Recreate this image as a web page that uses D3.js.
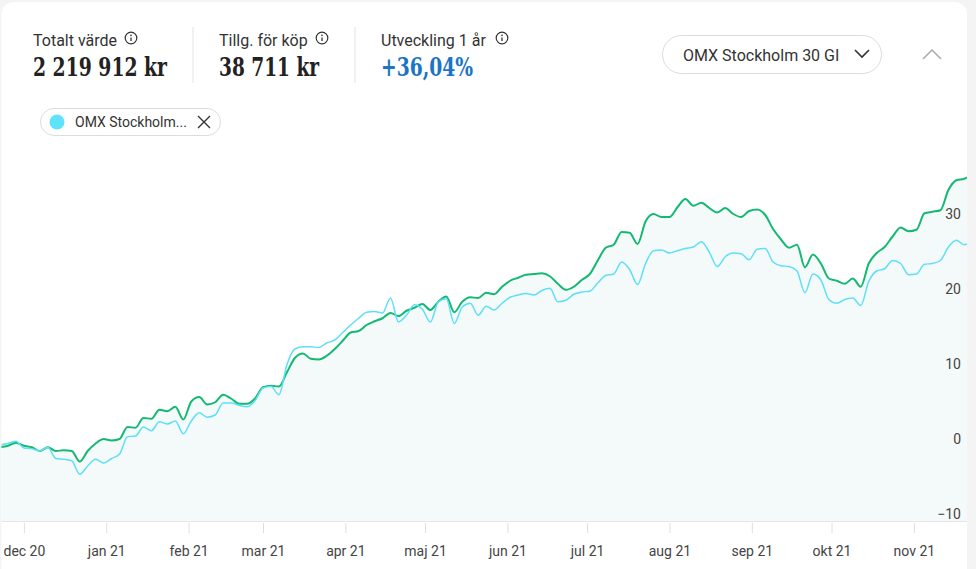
<!DOCTYPE html>
<html>
<head>
<meta charset="utf-8">
<script src="https://cdn.jsdelivr.net/npm/d3@7"></script>
<style>
  body { margin: 0; background: #f4f4f4; font-family: Roboto, "Noto Sans", sans-serif; }
  svg { display: block; }
  .big { font-family: "DejaVu Serif Condensed", "DejaVu Serif", serif; font-stretch: condensed; font-weight: bold; }
</style>
</head>
<body>
<svg id="chart" width="976" height="569"></svg>
<script>
// dates, one every three days (last one is 21 nov)
dates = ["2020-11-22","2020-11-25","2020-11-28","2020-12-01","2020-12-04","2020-12-07","2020-12-10","2020-12-13",
  "2020-12-16","2020-12-19","2020-12-22","2020-12-25","2020-12-28","2020-12-31","2021-01-03","2021-01-06",
  "2021-01-09","2021-01-12","2021-01-15","2021-01-18","2021-01-21","2021-01-24","2021-01-27","2021-01-30",
  "2021-02-02","2021-02-05","2021-02-08","2021-02-11","2021-02-14","2021-02-17","2021-02-20","2021-02-23",
  "2021-02-26","2021-03-01","2021-03-04","2021-03-07","2021-03-10","2021-03-13","2021-03-16","2021-03-19",
  "2021-03-22","2021-03-25","2021-03-28","2021-03-31","2021-04-03","2021-04-06","2021-04-09","2021-04-12",
  "2021-04-15","2021-04-18","2021-04-21","2021-04-24","2021-04-27","2021-04-30","2021-05-03","2021-05-06",
  "2021-05-09","2021-05-12","2021-05-15","2021-05-18","2021-05-21","2021-05-24","2021-05-27","2021-05-30",
  "2021-06-02","2021-06-05","2021-06-08","2021-06-11","2021-06-14","2021-06-17","2021-06-20","2021-06-23",
  "2021-06-26","2021-06-29","2021-07-02","2021-07-05","2021-07-08","2021-07-11","2021-07-14","2021-07-17",
  "2021-07-20","2021-07-23","2021-07-26","2021-07-29","2021-08-01","2021-08-04","2021-08-07","2021-08-10",
  "2021-08-13","2021-08-16","2021-08-19","2021-08-22","2021-08-25","2021-08-28","2021-08-31","2021-09-03",
  "2021-09-06","2021-09-09","2021-09-12","2021-09-15","2021-09-18","2021-09-21","2021-09-24","2021-09-27",
  "2021-09-30","2021-10-03","2021-10-06","2021-10-09","2021-10-12","2021-10-15","2021-10-18","2021-10-21",
  "2021-10-24","2021-10-27","2021-10-30","2021-11-02","2021-11-05","2021-11-08","2021-11-11","2021-11-14",
  "2021-11-17","2021-11-20","2021-11-21"]

// portfolio, % change
portfolio = [-1.1,-0.9,-0.5,-0.9,-1.1,-1.6,-1.1,-1.6,
  -1.5,-1.6,-3.0,-1.6,-0.6,0.0,-0.2,0.0,
  1.6,1.5,2.8,2.7,3.9,3.7,4.3,2.6,
  5.0,5.6,4.6,4.9,5.9,5.4,4.7,4.7,
  5.4,6.9,7.1,7.0,8.9,10.8,11.4,10.7,
  10.6,11.1,12.0,13.1,14.2,14.4,15.2,15.7,
  16.1,16.8,16.4,17.1,17.5,18.0,17.2,18.3,
  19.0,16.9,18.3,18.9,18.8,19.5,19.3,20.3,
  21.1,21.5,21.9,22.0,22.1,21.7,20.7,19.9,
  20.3,21.2,22.0,23.8,25.5,25.9,27.6,27.5,
  26.0,29.0,30.0,29.6,29.6,30.9,32.0,31.1,
  31.5,30.8,30.2,30.8,30.0,29.6,30.4,30.6,
  29.9,28.0,26.6,25.5,25.9,22.9,24.6,23.4,
  21.4,21.1,20.7,21.4,20.3,23.4,24.8,25.6,
  27.0,28.2,27.7,27.9,30.1,30.3,30.5,33.2,
  34.5,34.7,34.9]

// OMX Stockholm 30 GI, % change
omx = [-0.8,-0.6,-0.3,-1.2,-1.3,-1.6,-1.1,-2.6,
  -2.7,-2.9,-4.7,-3.6,-2.7,-3.2,-2.6,-2.0,
  0.3,0.4,1.6,1.1,2.3,2.0,2.4,0.7,
  2.4,3.5,2.9,3.2,4.8,4.8,4.5,4.3,
  5.1,6.8,7.0,5.9,9.9,12.0,12.3,12.3,
  12.2,12.8,13.2,14.2,15.2,16.1,16.9,17.0,
  16.8,18.8,15.6,16.5,17.9,17.3,15.6,18.3,
  18.7,15.4,17.6,18.1,16.5,17.7,17.2,18.1,
  18.9,19.2,19.4,19.2,19.8,20.1,18.3,18.5,
  19.3,19.6,19.7,20.8,21.8,22.0,23.6,22.6,
  20.6,23.4,25.1,25.2,24.8,25.1,25.4,25.6,
  26.3,24.9,23.0,24.3,24.8,24.7,23.9,25.3,
  25.4,23.6,23.1,23.0,22.4,19.5,22.0,21.2,
  18.6,18.1,18.6,18.8,17.8,21.0,22.4,22.7,
  23.8,23.4,21.9,22.0,23.3,23.4,23.8,25.6,
  26.5,25.9,26.0]

yTicks = [-10, 0, 10, 20, 30]
monthNames = ["jan","feb","mar","apr","maj","jun","jul","aug","sep","okt","nov","dec"]

stats = [
  {label: "Totalt värde", value: "2 219 912 kr", color: "#222", x: 33, w: 134, icon: 131},
  {label: "Tillg. för köp", value: "38 711 kr", color: "#222", x: 219, w: 100, icon: 322},
  {label: "Utveckling 1 år", value: "+36,04%", color: "#1c74c7", x: 381, w: 92, icon: 502}
]

svg = d3.select("#chart")
cardW = 967

// card
svg.append("rect").attr("x", 1.5).attr("y", 2).attr("width", cardW - 1.5).attr("height", 620)
  .attr("rx", 12).attr("fill", "#fff")

svg.append("defs").append("clipPath").attr("id", "cardclip")
  .append("rect").attr("x", 1.5).attr("y", 0).attr("width", cardW - 1.5).attr("height", 569)

// header numbers
head = svg.append("g")
stats.forEach(function(s){
  head.append("text").attr("x", s.x).attr("y", 46).attr("font-size", 16).attr("fill", "#333").text(s.label)
  ic = head.append("g").attr("transform", "translate(" + s.icon + ",38)")
  ic.append("circle").attr("r", 5.8).attr("fill", "none").attr("stroke", "#333").attr("stroke-width", 1.2)
  ic.append("line").attr("x1", 0).attr("x2", 0).attr("y1", -0.5).attr("y2", 3).attr("stroke", "#333").attr("stroke-width", 1.3)
  ic.append("circle").attr("cy", -2.6).attr("r", 0.8).attr("fill", "#333")
  head.append("text").attr("class", "big").attr("x", s.x).attr("y", 76).attr("font-size", 26)
    .attr("fill", s.color).attr("textLength", s.w).attr("lengthAdjust", "spacingAndGlyphs").text(s.value)
})
;[193, 355].forEach(function(x){
  head.append("line").attr("x1", x).attr("x2", x).attr("y1", 27).attr("y2", 83).attr("stroke", "#e3e3e3")
})

// index dropdown
dd = svg.append("g")
dd.append("rect").attr("x", 662.5).attr("y", 35.5).attr("width", 219).attr("height", 38).attr("rx", 19)
  .attr("fill", "#fff").attr("stroke", "#dcdcdc")
dd.append("text").attr("x", 683).attr("y", 61).attr("font-size", 16).attr("fill", "#333").text("OMX Stockholm 30 GI")
dd.append("path").attr("d", "M855,50 L862,57 L869,50").attr("fill", "none").attr("stroke", "#333").attr("stroke-width", 1.6)
svg.append("path").attr("d", "M923,59 L932,50 L941,59").attr("fill", "none").attr("stroke", "#aaa").attr("stroke-width", 1.5)

// legend chip
chip = svg.append("g")
chip.append("rect").attr("x", 40.5).attr("y", 108.5).attr("width", 180).attr("height", 27).attr("rx", 13.5)
  .attr("fill", "#fff").attr("stroke", "#dcdcdc")
chip.append("circle").attr("cx", 57).attr("cy", 122).attr("r", 7.5).attr("fill", "#5ee3fb")
chip.append("text").attr("x", 75).attr("y", 127).attr("font-size", 14).attr("fill", "#333").text("OMX Stockholm...")
chip.append("path").attr("d", "M198,116 L210,128 M210,116 L198,128").attr("stroke", "#333").attr("stroke-width", 1.4)

// chart
parse = d3.timeParse("%Y-%m-%d")
rows = dates.map(function(d, i){ return {date: parse(d), p: portfolio[i], o: omx[i]} })

x = d3.scaleTime().domain([parse("2020-11-22"), parse("2021-11-21")]).range([0, cardW])
y = d3.scaleLinear().domain([-11, 40]).range([521.5, 139])

plot = svg.append("g").attr("clip-path", "url(#cardclip)")

plot.append("path").datum(rows)
  .attr("d", d3.area().x(function(d){ return x(d.date) }).y0(y(-11)).y1(function(d){ return y(d.p) }).curve(d3.curveMonotoneX))
  .attr("fill", "#f4faf9")

plot.append("path").datum(rows)
  .attr("d", d3.line().x(function(d){ return x(d.date) }).y(function(d){ return y(d.p) }).curve(d3.curveMonotoneX))
  .attr("fill", "none").attr("stroke", "#14b873").attr("stroke-width", 2)

plot.append("path").datum(rows)
  .attr("d", d3.line().x(function(d){ return x(d.date) }).y(function(d){ return y(d.o) }).curve(d3.curveMonotoneX))
  .attr("fill", "none").attr("stroke", "#5ddff8").attr("stroke-width", 1.5)

// x axis
plot.append("line").attr("x1", 0).attr("x2", cardW).attr("y1", 521.5).attr("y2", 521.5).attr("stroke", "#e6e6e6")
xAxis = d3.axisBottom(x).ticks(d3.timeMonth.every(1)).tickSize(10).tickPadding(13)
  .tickFormat(function(d){ return monthNames[d.getMonth()] + " " + d3.timeFormat("%y")(d) })
gx = plot.append("g").attr("transform", "translate(0,523)").call(xAxis)
gx.select(".domain").remove()
gx.selectAll("line").attr("stroke", "#dedede")
gx.selectAll("text").attr("font-family", "Roboto").attr("font-size", 14).attr("fill", "#444")

// y axis labels on the right
yAxis = d3.axisLeft(y).tickValues(yTicks).tickSize(0).tickPadding(0)
gy = plot.append("g").attr("transform", "translate(961,0)").call(yAxis)
gy.select(".domain").remove()
gy.selectAll("text").attr("font-family", "Roboto").attr("font-size", 14).attr("fill", "#444")
</script>
</body>
</html>
